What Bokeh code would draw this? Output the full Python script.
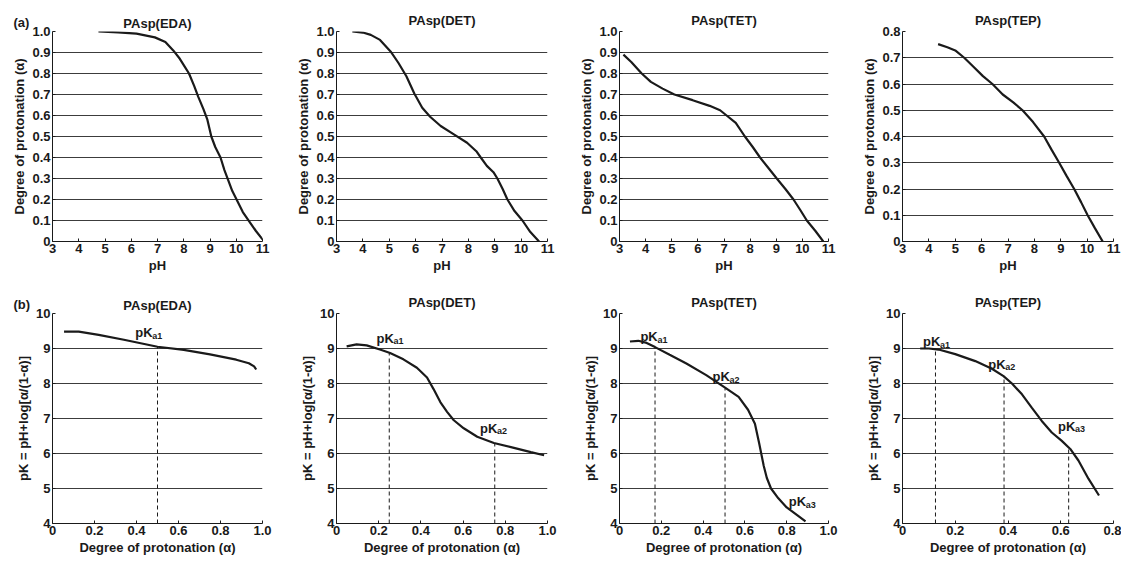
from bokeh.plotting import figure
from bokeh.layouts import gridplot
from bokeh.models import Range1d, FixedTicker, Title
from bokeh.embed import file_html
from bokeh.resources import INLINE
from bokeh.core.properties import value

FONT = "Liberation Sans"
INK = "#1a1a1a"
GRID = "#3c3c3c"
FS = "13px"

# ---------------- data ----------------
titles = ["PAsp(EDA)", "PAsp(DET)", "PAsp(TET)", "PAsp(TEP)"]
panel_tags = ["(a)", "(b)"]

ph_ticks = [3, 4, 5, 6, 7, 8, 9, 10, 11]
alpha_ticks = [0, 0.1, 0.2, 0.3, 0.4, 0.5, 0.6, 0.7, 0.8, 0.9, 1.0]
alpha_tick_labels = ["0", "0.1", "0.2", "0.3", "0.4", "0.5", "0.6", "0.7", "0.8", "0.9", "1.0"]
alpha_max = [1.0, 1.0, 1.0, 0.8]

# (a) titration curves: pH vs degree of protonation
eda_ph = [4.75, 5.5, 6.2, 6.9, 7.3, 7.6, 7.85, 8.0, 8.2, 8.4, 8.55, 8.75, 8.9, 9.05, 9.2, 9.4, 9.55, 9.7, 9.85, 10.05, 10.25, 10.5, 10.75, 11.0]
eda_alpha = [1.0, 0.996, 0.99, 0.972, 0.95, 0.91, 0.87, 0.84, 0.80, 0.74, 0.69, 0.63, 0.58, 0.50, 0.45, 0.40, 0.34, 0.29, 0.24, 0.19, 0.14, 0.095, 0.05, 0.01]

det_ph = [3.6, 4.0, 4.3, 4.65, 5.05, 5.35, 5.65, 5.95, 6.25, 6.55, 6.95, 7.45, 7.95, 8.3, 8.47, 8.7, 8.95, 9.1, 9.3, 9.48, 9.75, 10.05, 10.35, 10.68]
det_alpha = [1.0, 0.995, 0.984, 0.96, 0.905, 0.85, 0.787, 0.705, 0.637, 0.594, 0.55, 0.51, 0.47, 0.43, 0.40, 0.36, 0.33, 0.30, 0.25, 0.20, 0.145, 0.10, 0.045, 0.0]

tet_ph = [3.15, 3.45, 3.85, 4.2, 4.65, 5.1, 5.8, 6.45, 6.85, 7.1, 7.45, 7.8, 8.1, 8.38, 8.7, 9.02, 9.35, 9.66, 9.92, 10.17, 10.5, 10.8]
tet_alpha = [0.89, 0.855, 0.80, 0.76, 0.728, 0.70, 0.673, 0.646, 0.625, 0.60, 0.565, 0.50, 0.45, 0.40, 0.35, 0.30, 0.25, 0.20, 0.15, 0.10, 0.05, 0.0]

tep_ph = [4.35, 4.7, 5.0, 5.34, 5.7, 6.05, 6.41, 6.8, 7.2, 7.55, 7.95, 8.37, 8.65, 8.94, 9.22, 9.51, 9.77, 10.02, 10.3, 10.59]
tep_alpha = [0.752, 0.74, 0.728, 0.70, 0.665, 0.63, 0.60, 0.56, 0.53, 0.50, 0.455, 0.40, 0.35, 0.30, 0.25, 0.20, 0.15, 0.10, 0.05, 0.0]

# (b) apparent pK vs degree of protonation
pk_ticks = [4, 5, 6, 7, 8, 9, 10]
pk_grid = [5, 6, 7, 8, 9]
deg_ticks_1 = [0, 0.2, 0.4, 0.6, 0.8, 1.0]
deg_labels_1 = ["0", "0.2", "0.4", "0.6", "0.8", "1.0"]
deg_ticks_08 = [0, 0.2, 0.4, 0.6, 0.8]
deg_labels_08 = ["0", "0.2", "0.4", "0.6", "0.8"]
deg_max = [1.0, 1.0, 1.0, 0.8]

eda_deg = [0.055, 0.125, 0.22, 0.34, 0.5, 0.625, 0.75, 0.875, 0.935, 0.96, 0.97]
eda_pk = [9.48, 9.48, 9.39, 9.25, 9.05, 8.96, 8.83, 8.68, 8.58, 8.49, 8.40]

det_deg = [0.048, 0.095, 0.143, 0.206, 0.254, 0.317, 0.381, 0.429, 0.46, 0.492, 0.524, 0.556, 0.603, 0.667, 0.746, 0.841, 0.921, 0.984]
det_pk = [9.06, 9.12, 9.09, 8.97, 8.87, 8.69, 8.45, 8.17, 7.84, 7.47, 7.19, 6.95, 6.72, 6.48, 6.30, 6.16, 6.04, 5.95]

tet_deg = [0.05, 0.09, 0.13, 0.17, 0.24, 0.32, 0.415, 0.505, 0.57, 0.615, 0.648, 0.668, 0.69, 0.705, 0.725, 0.76, 0.80, 0.85, 0.89]
tet_pk = [9.2, 9.22, 9.16, 9.04, 8.82, 8.57, 8.24, 7.88, 7.62, 7.25, 6.85, 6.3, 5.65, 5.3, 5.0, 4.72, 4.46, 4.24, 4.06]

tep_deg = [0.067, 0.1, 0.137, 0.2, 0.276, 0.339, 0.383, 0.415, 0.453, 0.49, 0.528, 0.566, 0.604, 0.636, 0.667, 0.705, 0.745]
tep_pk = [9.0, 9.0, 8.97, 8.84, 8.64, 8.42, 8.21, 8.0, 7.69, 7.31, 6.93, 6.6, 6.36, 6.13, 5.80, 5.28, 4.8]

# pKa markers (dashed drop lines) and their labels
eda_pka_x = [0.5]
eda_pka_y = [9.05]
det_pka_x = [0.25, 0.75]
det_pka_y = [8.87, 6.29]
tet_pka_x = [0.17, 0.505]
tet_pka_y = [9.04, 7.86]
tep_pka_x = [0.125, 0.385, 0.63]
tep_pka_y = [8.97, 8.19, 6.15]

eda_lab_x = [0.394]
eda_lab_y = [9.45]
eda_lab_sub = ["a1"]
det_lab_x = [0.19, 0.68]
det_lab_y = [9.3, 6.72]
det_lab_sub = ["a1", "a2"]
tet_lab_x = [0.1, 0.445, 0.81]
tet_lab_y = [9.34, 8.2, 4.62]
tet_lab_sub = ["a1", "a2", "a3"]
tep_lab_x = [0.078, 0.325, 0.59]
tep_lab_y = [9.19, 8.55, 6.78]
tep_lab_sub = ["a1", "a2", "a3"]

top_x = [eda_ph, det_ph, tet_ph, tep_ph]
top_y = [eda_alpha, det_alpha, tet_alpha, tep_alpha]
bot_x = [eda_deg, det_deg, tet_deg, tep_deg]
bot_y = [eda_pk, det_pk, tet_pk, tep_pk]
pka_x = [eda_pka_x, det_pka_x, tet_pka_x, tep_pka_x]
pka_y = [eda_pka_y, det_pka_y, tet_pka_y, tep_pka_y]
lab_x = [eda_lab_x, det_lab_x, tet_lab_x, tep_lab_x]
lab_y = [eda_lab_y, det_lab_y, tet_lab_y, tep_lab_y]
lab_sub = [eda_lab_sub, det_lab_sub, tet_lab_sub, tep_lab_sub]

# ---------------- layout ----------------
col_w = [292, 283, 283, 263]
col_left = [52, 44, 44, 44]
col_right = [30, 28, 30, 8]
H1, H2 = 280, 281
TAG_STANDOFF = 4
TITLE_STANDOFF_WITH_TAG = -40


def style(p, xlabel, ylabel, title_standoff):
    p.outline_line_color = None
    p.background_fill_color = "white"
    p.border_fill_color = "white"
    p.title.align = "center"
    p.title.text_font = FONT
    p.title.text_font_size = FS
    p.title.text_font_style = "bold"
    p.title.text_color = INK
    p.title.standoff = title_standoff
    for ax in (p.xaxis[0], p.yaxis[0]):
        ax.axis_line_color = INK
        ax.axis_line_width = 1
        ax.major_tick_in = 3
        ax.major_tick_out = 0
        ax.major_tick_line_color = INK
        ax.minor_tick_line_color = None
        ax.major_label_text_font = FONT
        ax.major_label_text_font_size = FS
        ax.major_label_text_font_style = "bold"
        ax.major_label_text_color = INK
        ax.axis_label_text_font = FONT
        ax.axis_label_text_font_size = FS
        ax.axis_label_text_font_style = "bold"
        ax.axis_label_text_color = INK
        ax.major_label_standoff = 2
        ax.axis_label_standoff = 2
    p.xaxis.axis_label = xlabel
    p.yaxis.axis_label = ylabel
    p.xgrid.grid_line_color = None
    p.ygrid.grid_line_color = GRID
    p.ygrid.grid_line_width = 1


def add_tag(p, text):
    # an extra, left-aligned title on the same line as the panel title
    p.add_layout(Title(text=text, align="left", offset=-39, standoff=TAG_STANDOFF,
                       text_font=FONT, text_font_size=FS, text_font_style="bold",
                       text_color=INK), "above")


top_row = []
for i in range(4):
    p = figure(width=col_w[i], height=H1, output_backend="svg", toolbar_location=None,
               x_range=Range1d(3, 11), y_range=Range1d(0, alpha_max[i]),
               min_border_left=col_left[i], min_border_right=col_right[i],
               min_border_top=31, min_border_bottom=39, title=titles[i])
    style(p, "pH", "Degree of protonation (α)", TITLE_STANDOFF_WITH_TAG if i == 0 else 8)
    p.xaxis.ticker = FixedTicker(ticks=ph_ticks)
    yt = [t for t in alpha_ticks if t <= alpha_max[i] + 1e-9]
    p.yaxis.ticker = FixedTicker(ticks=yt)
    p.yaxis.major_label_overrides = {t: l for t, l in zip(alpha_ticks, alpha_tick_labels)}
    p.ygrid.ticker = FixedTicker(ticks=[t for t in yt if t > 0])
    p.line(top_x[i], top_y[i], line_color=INK, line_width=2.2)
    if i == 0:
        add_tag(p, panel_tags[0])
    top_row.append(p)

bot_row = []
for i in range(4):
    p = figure(width=col_w[i], height=H2, output_backend="svg", toolbar_location=None,
               x_range=Range1d(0, deg_max[i]), y_range=Range1d(4, 10),
               min_border_left=col_left[i], min_border_right=col_right[i],
               min_border_top=33, min_border_bottom=38, title=titles[i])
    style(p, "Degree of protonation (α)", "pK = pH+log[α/(1-α)]",
          TITLE_STANDOFF_WITH_TAG if i == 0 else 8)
    if deg_max[i] < 1:
        p.xaxis.ticker = FixedTicker(ticks=deg_ticks_08)
        p.xaxis.major_label_overrides = {t: l for t, l in zip(deg_ticks_08, deg_labels_08)}
    else:
        p.xaxis.ticker = FixedTicker(ticks=deg_ticks_1)
        p.xaxis.major_label_overrides = {t: l for t, l in zip(deg_ticks_1, deg_labels_1)}
    p.yaxis.ticker = FixedTicker(ticks=pk_ticks)
    p.ygrid.ticker = FixedTicker(ticks=pk_grid)
    n = len(pka_x[i])
    p.segment(x0=pka_x[i], y0=[4] * n, x1=pka_x[i], y1=pka_y[i],
              line_color=INK, line_width=1, line_dash="4 3")
    p.line(bot_x[i], bot_y[i], line_color=INK, line_width=2.2)
    m = len(lab_x[i])
    p.text(x=lab_x[i], y=lab_y[i], text=["pK"] * m, text_font=value(FONT),
           text_font_size=FS, text_font_style="bold", text_color=INK,
           text_baseline="alphabetic", text_align="left")
    p.text(x=lab_x[i], y=lab_y[i], text=lab_sub[i], text_font=value(FONT),
           text_font_size="9px", text_font_style="bold", text_color=INK,
           text_baseline="alphabetic", text_align="left", x_offset=17, y_offset=3)
    if i == 0:
        add_tag(p, panel_tags[1])
    bot_row.append(p)

grid = gridplot([top_row, bot_row], toolbar_location=None)

open("out.html", "w").write(file_html(grid, INLINE))
